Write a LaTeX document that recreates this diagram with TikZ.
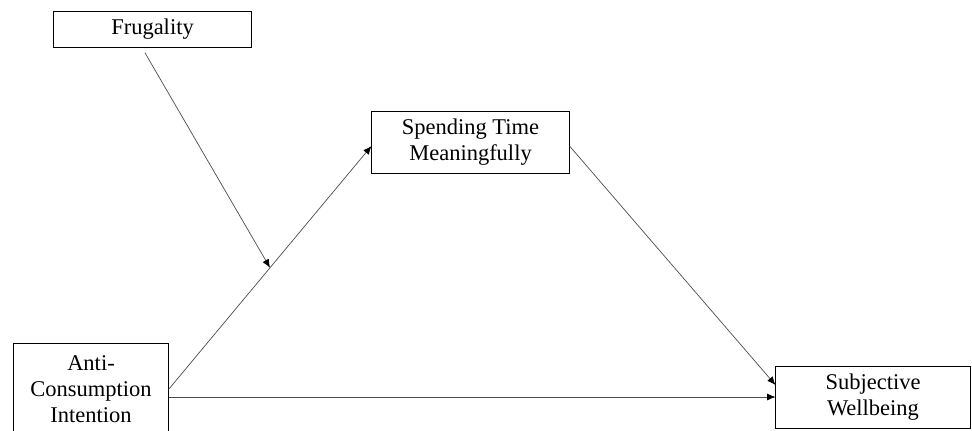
\documentclass[tikz,border=0pt]{standalone}
\usepackage{fontspec}
\setmainfont{Liberation Serif}
\usetikzlibrary{arrows.meta}

\begin{document}
\begin{tikzpicture}
[x=0.025cm,y=0.025cm,%
  every node/.style={shape=rectangle,draw,line width=0.7pt,align=center,inner sep=0pt,
    font=\fontsize{16}{18.5}\selectfont},%
  path/.style={-{Latex[length=6pt,width=5pt,color=black]},draw=black!70,line width=0.5pt}]
\useasboundingbox (0,0) rectangle (972,430);
% boxes
\node[minimum width=4.925cm,minimum height=0.9cm] (fru) at (152.5,401) {Frugality};
\node[minimum width=4.925cm,minimum height=1.55cm] (stm) at (470.5,288) {Spending Time\\Meaningfully};
\node[minimum width=3.85cm,minimum height=2.325cm] (aci) at (91,40.5) {Anti-\\Consumption\\Intention};
\node[minimum width=4.85cm,minimum height=1.55cm] (swb) at (873,33) {Subjective\\Wellbeing};
% paths
\draw[path] (aci.east) -- coordinate[pos=0.5] (mod) ([yshift=-0.1cm]stm.west);
\draw[path] ([yshift=-0.1cm]stm.east) -- ([yshift=0.3cm]swb.west);
\draw[path] (aci.east |- swb.west) -- (swb.west);
\draw[path] ([xshift=-0.19cm,yshift=-0.13cm]fru.south) -- (mod);
\end{tikzpicture}
\end{document}
